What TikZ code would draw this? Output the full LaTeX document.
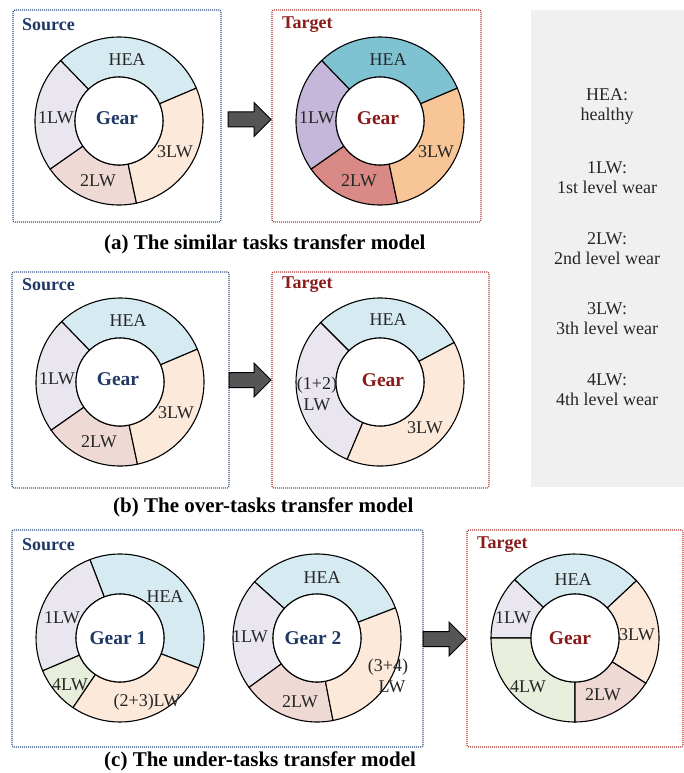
\documentclass[tikz,border=0pt]{standalone}
\usepackage{fontspec}
\setmainfont{Liberation Serif}
\usetikzlibrary{calc}

% segment fills: pale for source-style rings, saturated for the target ring of (a)
\definecolor{heaL}{HTML}{D6EBF1}
\definecolor{lwoneL}{HTML}{EAE6EF}
\definecolor{lwtwoL}{HTML}{EED9D5}
\definecolor{lwthreeL}{HTML}{FCE9D9}
\definecolor{lwfourL}{HTML}{E7EEDB}
\definecolor{heaD}{HTML}{7FC3D3}
\definecolor{lwoneD}{HTML}{C4B7D9}
\definecolor{lwtwoD}{HTML}{D98A86}
\definecolor{lwthreeD}{HTML}{F8C597}
\definecolor{srcblue}{HTML}{1F3864}
\definecolor{tgtred}{HTML}{8B1A1A}
\definecolor{srcframe}{HTML}{34507F}
\definecolor{tgtframe}{HTML}{B03434}
\definecolor{legendbg}{HTML}{F0F0F0}
\definecolor{arrowfill}{HTML}{555555}

\newcommand\rIn{44}
\newcommand\rOut{84}

% annular sector round centre #1 from angle #2 to angle #3 (counter-clockwise), fill #4
\newcommand\ringpiece[4]{%
  \filldraw[ringline, fill=#4]
    ($(#1)+(-#2:\rOut)$) arc[start angle=-#2, end angle=-#3, radius=\rOut]
    -- ($(#1)+(-#3:\rIn)$) arc[start angle=-#3, end angle=-#2, radius=\rIn] -- cycle;}

% white hub of a ring
\newcommand\ringhub[1]{%
  \filldraw[ringline, fill=white] (#1) circle[radius=\rIn];}

% thick grey block arrow from tail coordinate #1 to tip coordinate #2
\newcommand\blockarrow[2]{%
  \filldraw[blockarr] let \p1=(#1), \p2=(#2) in
    (\x1,\y1+7.5pt) -- (\x2-17pt,\y1+7.5pt) -- (\x2-17pt,\y1+17pt) -- (\x2,\y2)
    -- (\x2-17pt,\y1-17pt) -- (\x2-17pt,\y1-7.5pt) -- (\x1,\y1-7.5pt) -- cycle;}

\tikzset{
  ringline/.style={draw=black, line width=1.1pt},
  seglabel/.style={font=\fontsize{18}{18}\selectfont, text=black!85, inner sep=0pt},
  srcgear/.style={font=\fontsize{19.5}{19.5}\selectfont\bfseries, text=srcblue, inner sep=0pt},
  tgtgear/.style={font=\fontsize{19.5}{19.5}\selectfont\bfseries, text=tgtred, inner sep=0pt},
  framebox/.style={dash pattern=on 1pt off 1pt, line width=1.2pt, rounded corners=2pt,
    anchor=north west, inner sep=0pt, outer sep=0pt},
  srcbox/.style={framebox, draw=srcframe},
  tgtbox/.style={framebox, draw=tgtframe},
  srctitle/.style={font=\fontsize{18}{18}\selectfont\bfseries, text=srcblue, anchor=west, inner sep=0pt},
  tgttitle/.style={font=\fontsize{18}{18}\selectfont\bfseries, text=tgtred, anchor=west, inner sep=0pt},
  caption/.style={font=\fontsize{21}{21}\selectfont\bfseries, text=black, anchor=west, inner sep=0pt},
  legendtext/.style={font=\fontsize{18}{20}\selectfont, text=black!85, align=center, inner sep=0pt},
  blockarr/.style={draw=black, line width=1pt, fill=arrowfill, line join=miter},
}

\begin{document}
\begin{tikzpicture}[x=1pt, y=-1pt]
  \useasboundingbox (0,0) rectangle (684,773);

  % ---------------- legend panel ----------------
  \node[fill=legendbg, anchor=north west, minimum width=153pt, minimum height=477pt,
        inner sep=0pt, outer sep=0pt] (legend) at (531,10) {};
  \node[legendtext] (legHEA) at (607,107) {HEA:\\healthy};
  \node[legendtext] (legone) at (607,178) {1LW:\\1st level wear};
  \node[legendtext] (legtwo) at (607,248.5) {2LW:\\2nd level wear};
  \node[legendtext] (legthree) at (607,319) {3LW:\\3th level wear};
  \node[legendtext] (legfour) at (607,390) {4LW:\\4th level wear};

  % ---------------- (a) similar tasks ----------------
  \node[srcbox, minimum width=208pt, minimum height=212pt] (srcA) at (13,10) {};
  \node[tgtbox, minimum width=209pt, minimum height=212pt] (tgtA) at (272,10) {};
  \node[srctitle] (srcAt) at (22,25) {Source};
  \node[tgttitle] (tgtAt) at (282,25) {Target};

  \coordinate (cA1) at (119,121);
  \ringpiece{cA1}{23}{134}{heaL}
  \ringpiece{cA1}{134}{215}{lwoneL}
  \ringpiece{cA1}{215}{282}{lwtwoL}
  \ringpiece{cA1}{282}{383}{lwthreeL}
  \ringhub{cA1}
  \node[seglabel] (a1hea) at ($(cA1)+(8,-61)$) {HEA};
  \node[seglabel] (a1one) at ($(cA1)+(-63,-3)$) {1LW};
  \node[seglabel] (a1two) at ($(cA1)+(-21,60)$) {2LW};
  \node[seglabel] (a1three) at ($(cA1)+(56,31)$) {3LW};
  \node[srcgear] (a1gear) at ($(cA1)+(-2,-3)$) {Gear};

  \coordinate (cA2) at (380,121);
  \ringpiece{cA2}{23}{134}{heaD}
  \ringpiece{cA2}{134}{215}{lwoneD}
  \ringpiece{cA2}{215}{282}{lwtwoD}
  \ringpiece{cA2}{282}{383}{lwthreeD}
  \ringhub{cA2}
  \node[seglabel] (a2hea) at ($(cA2)+(8,-61)$) {HEA};
  \node[seglabel] (a2one) at ($(cA2)+(-63,-3)$) {1LW};
  \node[seglabel] (a2two) at ($(cA2)+(-21,60)$) {2LW};
  \node[seglabel] (a2three) at ($(cA2)+(56,31)$) {3LW};
  \node[tgtgear] (a2gear) at ($(cA2)+(-2,-3)$) {Gear};

  \coordinate (arrAtail) at (228,119.5);
  \coordinate (arrAtip) at (271,119.5);
  \blockarrow{arrAtail}{arrAtip}

  \node[caption] (capA) at (104,244) {(a) The similar tasks transfer model};

  % ---------------- (b) over-tasks ----------------
  \node[srcbox, minimum width=217pt, minimum height=216pt] (srcB) at (12,272) {};
  \node[tgtbox, minimum width=217pt, minimum height=216pt] (tgtB) at (272,272) {};
  \node[srctitle] (srcBt) at (22,285) {Source};
  \node[tgttitle] (tgtBt) at (282,285) {Target};

  \coordinate (cB1) at (120,382);
  \ringpiece{cB1}{23}{134}{heaL}
  \ringpiece{cB1}{134}{215}{lwoneL}
  \ringpiece{cB1}{215}{282}{lwtwoL}
  \ringpiece{cB1}{282}{383}{lwthreeL}
  \ringhub{cB1}
  \node[seglabel] (b1hea) at ($(cB1)+(8,-61)$) {HEA};
  \node[seglabel] (b1one) at ($(cB1)+(-63,-3)$) {1LW};
  \node[seglabel] (b1two) at ($(cB1)+(-21,60)$) {2LW};
  \node[seglabel] (b1three) at ($(cB1)+(56,31)$) {3LW};
  \node[srcgear] (b1gear) at ($(cB1)+(-2,-3)$) {Gear};

  \coordinate (cB2) at (380,382);
  \ringpiece{cB2}{28}{135}{heaL}
  \ringpiece{cB2}{135}{247}{lwoneL}
  \ringpiece{cB2}{247}{388}{lwthreeL}
  \ringhub{cB2}
  \node[seglabel] (b2hea) at ($(cB2)+(8,-62)$) {HEA};
  \node[seglabel] (b2onetwo) at ($(cB2)+(-63,3)$) {(1+2)};
  \node[seglabel] (b2lw) at ($(cB2)+(-63,23)$) {LW};
  \node[seglabel] (b2three) at ($(cB2)+(45,46)$) {3LW};
  \node[tgtgear] (b2gear) at ($(cB2)+(3,-2)$) {Gear};

  \coordinate (arrBtail) at (229,380);
  \coordinate (arrBtip) at (271,380);
  \blockarrow{arrBtail}{arrBtip}

  \node[caption] (capB) at (113,507) {(b) The over-tasks transfer model};

  % ---------------- (c) under-tasks ----------------
  \node[srcbox, minimum width=411pt, minimum height=217pt] (srcC) at (12,530) {};
  \node[tgtbox, minimum width=216pt, minimum height=217pt] (tgtC) at (467,530) {};
  \node[srctitle] (srcCt) at (22,545) {Source};
  \node[tgttitle] (tgtCt) at (477,545) {Target};

  \coordinate (cC1) at (120,638);
  \ringpiece{cC1}{-21}{111}{heaL}
  \ringpiece{cC1}{111}{203}{lwoneL}
  \ringpiece{cC1}{203}{236}{lwfourL}
  \ringpiece{cC1}{236}{339}{lwthreeL}
  \ringhub{cC1}
  \node[seglabel] (c1hea) at ($(cC1)+(45,-41)$) {HEA};
  \node[seglabel] (c1one) at ($(cC1)+(-58,-20)$) {1LW};
  \node[seglabel] (c1four) at ($(cC1)+(-50,47)$) {4LW};
  \node[seglabel] (c1twothree) at ($(cC1)+(27,64)$) {(2+3)LW};
  \node[srcgear] (c1gear) at ($(cC1)+(-2,0)$) {Gear 1};

  \coordinate (cC2) at (317,638);
  \ringpiece{cC2}{21}{138}{heaL}
  \ringpiece{cC2}{138}{216}{lwoneL}
  \ringpiece{cC2}{216}{281}{lwtwoL}
  \ringpiece{cC2}{281}{381}{lwthreeL}
  \ringhub{cC2}
  \node[seglabel] (c2hea) at ($(cC2)+(5,-60)$) {HEA};
  \node[seglabel] (c2one) at ($(cC2)+(-67,-1)$) {1LW};
  \node[seglabel] (c2two) at ($(cC2)+(-17,64)$) {2LW};
  \node[seglabel] (c2threefour) at ($(cC2)+(71,29)$) {(3+4)};
  \node[seglabel] (c2lw) at ($(cC2)+(75,49)$) {LW};
  \node[srcgear] (c2gear) at ($(cC2)+(-4,0)$) {Gear 2};

  \coordinate (cC3) at (575,638);
  \ringpiece{cC3}{43}{136}{heaL}
  \ringpiece{cC3}{136}{180}{lwoneL}
  \ringpiece{cC3}{180}{270}{lwfourL}
  \ringpiece{cC3}{270}{327.5}{lwtwoL}
  \ringpiece{cC3}{327.5}{403}{lwthreeL}
  \ringhub{cC3}
  \node[seglabel] (c3hea) at ($(cC3)+(-2,-58)$) {HEA};
  \node[seglabel] (c3one) at ($(cC3)+(-62,-20)$) {1LW};
  \node[seglabel] (c3three) at ($(cC3)+(62,-3)$) {3LW};
  \node[seglabel] (c3four) at ($(cC3)+(-47,49)$) {4LW};
  \node[seglabel] (c3two) at ($(cC3)+(28,57)$) {2LW};
  \node[tgtgear] (c3gear) at ($(cC3)+(-5,0)$) {Gear};

  \coordinate (arrCtail) at (423,639);
  \coordinate (arrCtip) at (466,639);
  \blockarrow{arrCtail}{arrCtip}

  \node[caption] (capC) at (104,761) {(c) The under-tasks transfer model};
\end{tikzpicture}
\end{document}
